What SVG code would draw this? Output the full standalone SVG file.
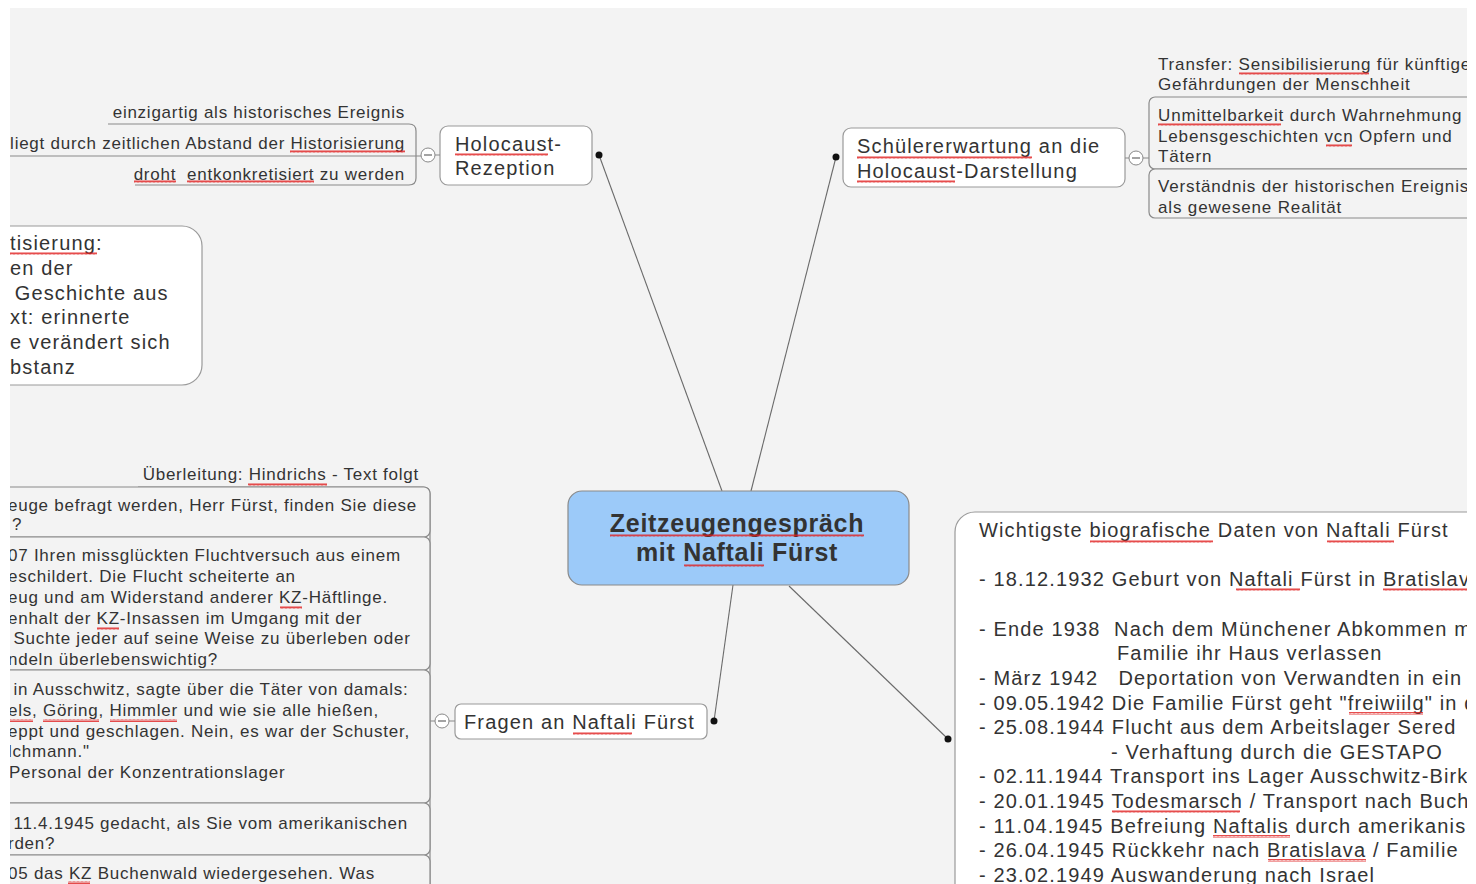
<svg xmlns="http://www.w3.org/2000/svg" width="1476" height="884" viewBox="0 0 1476 884">
<defs>
<style>
.t{font-family:"Liberation Sans",Arial,sans-serif;fill:#333}
.s16{font-size:17px;letter-spacing:0.85px}
.s17{font-size:17px;letter-spacing:0.75px}
.s20{font-size:20px;letter-spacing:1.15px}
.node{fill:#fff;stroke:#9a9a9a;stroke-width:1.2}
.box{fill:#f3f3f3;stroke:#8a8a8a;stroke-width:1.2}
.br{fill:none;stroke:#8a8a8a;stroke-width:1.2}
.con{fill:none;stroke:#6a6a6a;stroke-width:1.1}
.dot{fill:#111}
.col{fill:#fff;stroke:#888;stroke-width:1}
.sq{fill:url(#wave)}
</style>
<pattern id="wave" width="4" height="3" patternUnits="userSpaceOnUse">
<path d="M0 2.6 L1 0.4 L2 2.6 L3 0.4 L4 2.6" fill="none" stroke="#e02020" stroke-width="0.8"/>
</pattern>
<clipPath id="canvas"><rect x="10" y="8" width="1457" height="876"/></clipPath>
</defs>
<rect width="1476" height="884" fill="#ffffff"/>
<rect x="10" y="8" width="1457" height="876" fill="#f3f3f3"/>
<g clip-path="url(#canvas)">
<g id="connectors">
<line class="con" x1="599" y1="155" x2="722" y2="491"/>
<line class="con" x1="836" y1="157" x2="751" y2="491"/>
<line class="con" x1="714" y1="721" x2="733" y2="585"/>
<line class="con" x1="948" y1="739" x2="789" y2="586"/>
<circle class="dot" cx="599" cy="155" r="3.5"/>
<circle class="dot" cx="836" cy="157" r="3.5"/>
<circle class="dot" cx="714" cy="721" r="3.5"/>
<circle class="dot" cx="948" cy="739" r="3.5"/>
</g>
<g id="center">
<rect x="568" y="491" width="341" height="94" rx="14" fill="#9ccaf9" stroke="#8a8a8a" stroke-width="1.2"/>
<text class="t" x="737" y="532" font-size="25" font-weight="bold" letter-spacing="0.7" text-anchor="middle">Zeitzeugengespräch</text>
<text class="t" x="737" y="561" font-size="25" font-weight="bold" letter-spacing="0.7" text-anchor="middle">mit Naftali Fürst</text>
<rect class="sq" x="610" y="534" width="254" height="3"/>
<rect class="sq" x="684" y="564" width="80" height="3"/>
</g>
<g id="holocaust-rezeption">
<rect class="node" x="440" y="126" width="152" height="59" rx="8"/>
<text class="t s20" x="455" y="151">Holocaust-</text>
<text class="t s20" x="455" y="175">Rezeption</text>
<rect class="sq" x="455" y="153" width="93" height="3"/>
<path class="br" d="M108,124 H409 Q416,124 416,131 V178 Q416,185 409,185 H135 M10,156 H421 M435,155 H440"/>
<circle class="col" cx="428" cy="155" r="7"/>
<line x1="424" y1="155" x2="432" y2="155" stroke="#666" stroke-width="1.2"/>
<text class="t s17" x="405" y="118" text-anchor="end">einzigartig als historisches Ereignis</text>
<text class="t s17" x="405" y="149" text-anchor="end">liegt durch zeitlichen Abstand der Historisierung</text>
<text class="t s17" x="405" y="180" text-anchor="end" xml:space="preserve">droht  entkonkretisiert zu werden</text>
<rect class="sq" x="290" y="150" width="115" height="3"/>
<rect class="sq" x="134" y="180" width="42" height="3"/>
<rect class="sq" x="187" y="180" width="127" height="3"/>
</g>
<g id="schuelererwartung">
<rect class="node" x="843" y="128" width="282" height="59" rx="8"/>
<text class="t s20" x="857" y="153">Schülererwartung an die</text>
<text class="t s20" x="857" y="178">Holocaust-Darstellung</text>
<rect class="sq" x="857" y="156" width="175" height="3"/>
<rect class="sq" x="857" y="180" width="98" height="3"/>
<path class="br" d="M1125,158 H1129 M1143,158 H1149"/>
<circle class="col" cx="1136" cy="158" r="7"/>
<line x1="1132" y1="158" x2="1140" y2="158" stroke="#666" stroke-width="1.2"/>
<rect class="box" x="1149" y="97" width="450" height="72" rx="6"/>
<rect class="box" x="1149" y="169" width="450" height="49" rx="6"/>
<text class="t s16" x="1158" y="70">Transfer: Sensibilisierung für künftige</text>
<text class="t s16" x="1158" y="90">Gefährdungen der Menschheit</text>
<text class="t s16" x="1158" y="121">Unmittelbarkeit durch Wahrnehmung</text>
<text class="t s16" x="1158" y="142">Lebensgeschichten vcn Opfern und</text>
<text class="t s16" x="1158" y="162">Tätern</text>
<text class="t s16" x="1158" y="192">Verständnis der historischen Ereignis</text>
<text class="t s16" x="1158" y="213">als gewesene Realität</text>
<rect class="sq" x="1239" y="72" width="130" height="3"/>
<rect class="sq" x="1158" y="123" width="123" height="3"/>
<rect class="sq" x="1326" y="144" width="26" height="3"/>
</g>
<g id="historisierung">
<rect class="node" x="-100" y="226" width="302" height="159" rx="20"/>
<text class="t s20" x="10" y="250">tisierung:</text>
<text class="t s20" x="10" y="275">en der</text>
<text class="t s20" x="8" y="300" xml:space="preserve"> Geschichte aus</text>
<text class="t s20" x="10" y="324">xt: erinnerte</text>
<text class="t s20" x="10" y="349">e verändert sich</text>
<text class="t s20" x="10" y="374">bstanz</text>
<rect class="sq" x="10" y="252" width="87" height="3"/>
</g>
<g id="fragen">
<rect class="node" x="455" y="704" width="252" height="35" rx="6"/>
<text class="t s20" x="464" y="729">Fragen an Naftali Fürst</text>
<rect class="sq" x="573" y="732" width="59" height="3"/>
<path class="br" d="M430,721 H435 M449,721 H455"/>
<circle class="col" cx="442" cy="721" r="7"/>
<line x1="438" y1="721" x2="446" y2="721" stroke="#666" stroke-width="1.2"/>
<path class="br" d="M138,487 H423 Q430,487 430,494 V900"/>
<rect class="box" x="-50" y="487" width="480" height="50" rx="6"/>
<rect class="box" x="-50" y="537" width="480" height="133" rx="6"/>
<rect class="box" x="-50" y="670" width="480" height="133" rx="6"/>
<rect class="box" x="-50" y="803" width="480" height="52" rx="6"/>
<rect class="box" x="-50" y="855" width="480" height="60" rx="6"/>
<text class="t s17" x="419" y="480" text-anchor="end">Überleitung: Hindrichs - Text folgt</text>
<rect class="sq" x="248" y="483" width="79" height="3"/>
<text class="t s17" x="8" y="511">euge befragt werden, Herr Fürst, finden Sie diese</text>
<text class="t s17" x="12" y="530">?</text>
<text class="t s17" x="8" y="561">07 Ihren missglückten Fluchtversuch aus einem</text>
<text class="t s17" x="8" y="582">eschildert. Die Flucht scheiterte an</text>
<text class="t s17" x="8" y="603">eug und am Widerstand anderer KZ-Häftlinge.</text>
<text class="t s17" x="8" y="624">enhalt der KZ-Insassen im Umgang mit der</text>
<text class="t s17" x="8" y="644" xml:space="preserve"> Suchte jeder auf seine Weise zu überleben oder</text>
<text class="t s17" x="8" y="665">ndeln überlebenswichtig?</text>
<text class="t s17" x="8" y="695" xml:space="preserve"> in Ausschwitz, sagte über die Täter von damals:</text>
<text class="t s17" x="8" y="716">els, Göring, Himmler und wie sie alle hießen,</text>
<text class="t s17" x="8" y="737">eppt und geschlagen. Nein, es war der Schuster,</text>
<text class="t s17" x="8" y="757">lchmann."</text>
<text class="t s17" x="9" y="778">Personal der Konzentrationslager</text>
<text class="t s17" x="8" y="829" xml:space="preserve"> 11.4.1945 gedacht, als Sie vom amerikanischen</text>
<text class="t s17" x="8" y="849">rden?</text>
<text class="t s17" x="8" y="879">05 das KZ Buchenwald wiedergesehen. Was</text>
<rect class="sq" x="280" y="606" width="22" height="3"/>
<rect class="sq" x="97" y="627" width="22" height="3"/>
<rect class="sq" x="10" y="719" width="23" height="3"/>
<rect class="sq" x="43" y="719" width="56" height="3"/>
<rect class="sq" x="110" y="719" width="67" height="3"/>
<rect class="sq" x="68" y="881" width="22" height="3"/>
</g>
<g id="biografie">
<rect class="node" x="955" y="512" width="600" height="500" rx="20"/>
<text class="t s20" x="979" y="537">Wichtigste biografische Daten von Naftali Fürst</text>
<text class="t s20" x="979" y="586">- 18.12.1932 Geburt von Naftali Fürst in Bratislav</text>
<text class="t s20" x="979" y="636" xml:space="preserve">- Ende 1938  Nach dem Münchener Abkommen m</text>
<text class="t s20" x="1117" y="660">Familie ihr Haus verlassen</text>
<text class="t s20" x="979" y="685" xml:space="preserve">- März 1942   Deportation von Verwandten in ein</text>
<text class="t s20" x="979" y="710">- 09.05.1942 Die Familie Fürst geht "freiwiilg" in d</text>
<text class="t s20" x="979" y="734">- 25.08.1944 Flucht aus dem Arbeitslager Sered</text>
<text class="t s20" x="1111" y="759">- Verhaftung durch die GESTAPO</text>
<text class="t s20" x="979" y="783">- 02.11.1944 Transport ins Lager Ausschwitz-Birk</text>
<text class="t s20" x="979" y="808">- 20.01.1945 Todesmarsch / Transport nach Buch</text>
<text class="t s20" x="979" y="833">- 11.04.1945 Befreiung Naftalis durch amerikanis</text>
<text class="t s20" x="979" y="857">- 26.04.1945 Rückkehr nach Bratislava / Familie</text>
<text class="t s20" x="979" y="882">- 23.02.1949 Auswanderung nach Israel</text>
<rect class="sq" x="1090" y="540" width="123" height="3"/>
<rect class="sq" x="1327" y="540" width="67" height="3"/>
<rect class="sq" x="1236" y="588" width="64" height="3"/>
<rect class="sq" x="1383" y="588" width="84" height="3"/>
<rect class="sq" x="1349" y="712" width="74" height="3"/>
<rect class="sq" x="1112" y="810" width="128" height="3"/>
<rect class="sq" x="1213" y="835" width="77" height="3"/>
<rect class="sq" x="1268" y="859" width="98" height="3"/>
</g>
</g>
</svg>
